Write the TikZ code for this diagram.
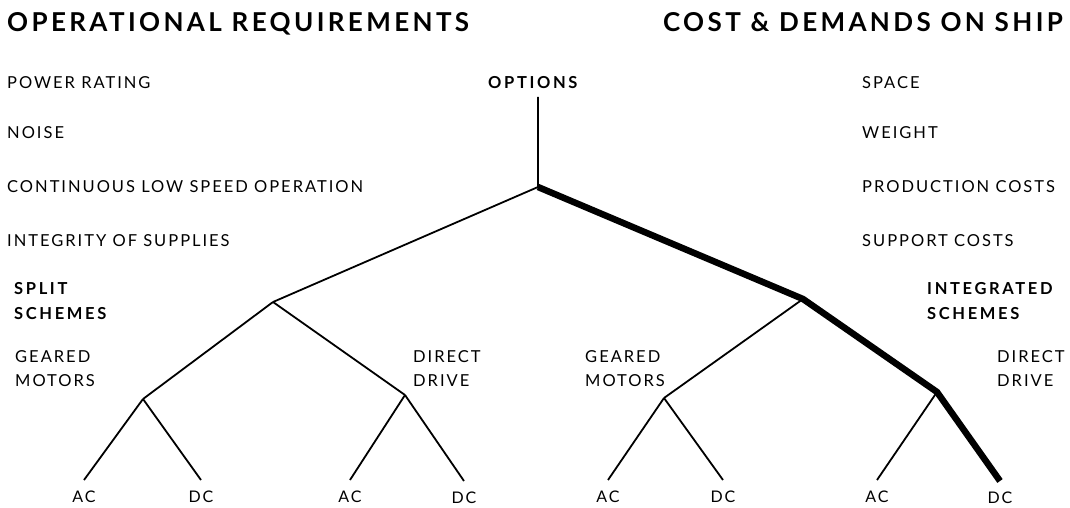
\documentclass[tikz,border=0pt]{standalone}
\usepackage{fontspec}
\setmainfont{Lato}
\newfontfamily\headfont{Lato}[LetterSpace=13.0]
\newfontfamily\itemfont{Lato}[LetterSpace=12.0]
\newfontfamily\groupfont{Lato}[LetterSpace=16.0]
\usetikzlibrary{positioning}

\tikzset{
  head/.style={anchor=base west, inner sep=0pt, font=\headfont\bfseries\fontsize{26}{30}\selectfont},
  item/.style={anchor=base west, inner sep=0pt, font=\itemfont\fontsize{16.5}{24}\selectfont, align=left},
  group/.style={anchor=base west, inner sep=0pt, font=\groupfont\bfseries\fontsize{16.5}{25}\selectfont, align=left},
  leaflab/.style={inner sep=0pt, font=\itemfont\fontsize{16}{18}\selectfont},
  branch/.style={line width=1.8pt},
  chosen/.style={line width=6.5pt, line join=round},
}

\begin{document}
\begin{tikzpicture}[x=1pt, y=-1pt]
  \useasboundingbox (0,0) rectangle (1070,508);

  % headings
  \node[head] (opreq) at (7,32) {OPERATIONAL REQUIREMENTS};
  \node[head, anchor=base east] (cost) at (1063,32) {COST \& DEMANDS ON SHIP};

  % requirements, left column
  \node[item] (power) at (7,89) {POWER RATING};
  \node[item] (noise) at (7,139) {NOISE};
  \node[item] (lowspeed) at (7,192) {CONTINUOUS LOW SPEED OPERATION};
  \node[item] (supplies) at (7,246) {INTEGRITY OF SUPPLIES};

  % demands, right column
  \node[item] (space) at (862,89) {SPACE};
  \node[item] (weight) at (862,139) {WEIGHT};
  \node[item] (prodcost) at (862,192) {PRODUCTION COSTS};
  \node[item] (suppcost) at (862,246) {SUPPORT COSTS};

  % tree points
  \coordinate (top) at (538,97);
  \coordinate (root) at (538,187);
  \coordinate (split) at (273,302);
  \coordinate (integ) at (803,299);
  \coordinate (sgear) at (143,399);
  \coordinate (sdir) at (405,395);
  \coordinate (igear) at (664,398);
  \coordinate (idir) at (937,392);
  \coordinate (ac1) at (84,480);
  \coordinate (dc1) at (201,480);
  \coordinate (ac2) at (350,480);
  \coordinate (dc2) at (464,481);
  \coordinate (ac3) at (608,480);
  \coordinate (dc3) at (723,480);
  \coordinate (ac4) at (877,480);
  \coordinate (dc4) at (1000,481);

  \node[group] (options) at (488,89) {OPTIONS};

  % branches
  \draw[branch] (top) -- (root) -- (split);
  \draw[branch] (split) -- (sgear) (split) -- (sdir);
  \draw[branch] (sgear) -- (ac1) (sgear) -- (dc1);
  \draw[branch] (sdir) -- (ac2) (sdir) -- (dc2);
  \draw[branch] (integ) -- (igear);
  \draw[branch] (igear) -- (ac3) (igear) -- (dc3);
  \draw[branch] (idir) -- (ac4);
  \draw[chosen] (root) -- (integ) -- (idir) -- (dc4);

  % scheme labels (anchored on the last line)
  \node[group] (splitlab) at (14,319) {SPLIT\\SCHEMES};
  \node[group] (integlab) at (927,319) {INTEGRATED\\SCHEMES};
  \node[item] (sgearlab) at (15,386) {GEARED\\MOTORS};
  \node[item] (sdirlab) at (413,386) {DIRECT\\DRIVE};
  \node[item] (igearlab) at (585,386) {GEARED\\MOTORS};
  \node[item] (idirlab) at (997,386) {DIRECT\\DRIVE};

  % leaves
  \foreach \leaf/\txt in {ac1/AC, dc1/DC, ac2/AC, dc2/DC, ac3/AC, dc3/DC, ac4/AC, dc4/DC}
    \node[leaflab, below=11pt of \leaf] (\leaf lab) {\txt};
\end{tikzpicture}
\end{document}
